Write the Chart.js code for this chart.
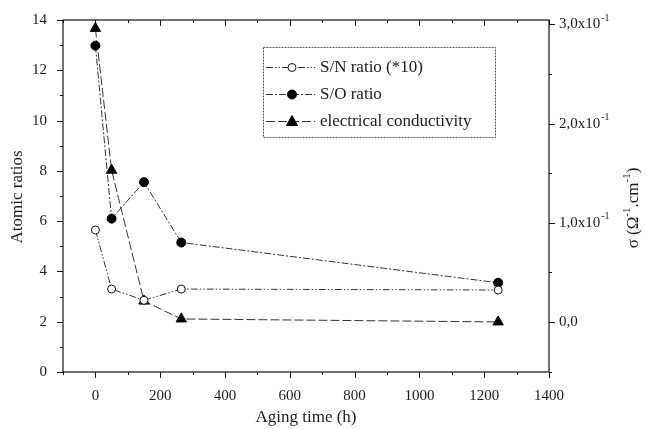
<!DOCTYPE html>
<html>
<head>
<meta charset="utf-8">
<script src="https://cdn.jsdelivr.net/npm/chart.js@4/dist/chart.umd.min.js"></script>
<style>
  html, body { margin: 0; padding: 0; background: #fff; }
  #wrap { width: 647px; height: 429px; }
</style>
</head>
<body>
<div id="wrap"><canvas id="c" width="647" height="429"></canvas></div>
<script>
// data
const agingTime = [0, 50, 150, 265, 1243];
const snRatio = [5.65, 3.3, 2.85, 3.3, 3.26];        // S/N ratio (*10)
const soRatio = [12.98, 6.1, 7.55, 5.15, 3.55];      // S/O ratio
const conductivity = [0.296, 0.153, 0.021, 0.003, 0.0]; // sigma, right axis

const xTicks = [0, 200, 400, 600, 800, 1000, 1200, 1400];
const leftTicks = [0, 2, 4, 6, 8, 10, 12, 14];
const rightTicks = [0, 0.1, 0.2, 0.3];

const seriesNames = ['S/N ratio (*10)', 'S/O ratio', 'electrical conductivity'];

const FONT = '"Liberation Serif"';
const INK = '#1a1a1a';
const LINE = '#333';

function pts(ys) {
  return agingTime.map((x, i) => ({ x: x, y: ys[i] }));
}

const datasets = [
  {
    label: seriesNames[0], data: pts(snRatio), yAxisID: 'y',
    borderColor: LINE, borderWidth: 1, borderDash: [7, 2, 1.5, 2, 1.5, 2],
    pointStyle: 'circle', pointRadius: 4, pointBackgroundColor: '#fff',
    pointBorderColor: '#111', pointBorderWidth: 1, showLine: true
  },
  {
    label: seriesNames[1], data: pts(soRatio), yAxisID: 'y',
    borderColor: LINE, borderWidth: 1, borderDash: [7, 2, 2, 2],
    pointStyle: 'circle', pointRadius: 4.5, pointBackgroundColor: '#000',
    pointBorderColor: '#000', pointBorderWidth: 1, showLine: true
  },
  {
    label: seriesNames[2], data: pts(conductivity), yAxisID: 'y2',
    borderColor: LINE, borderWidth: 1, borderDash: [9, 3],
    pointStyle: 'triangle', pointRadius: 6, pointBackgroundColor: '#000',
    pointBorderColor: '#000', pointBorderWidth: 1, showLine: true
  }
];

// frame, minor/major ticks, right labels, titles and legend box
const decor = {
  id: 'decor',
  afterDraw(chart) {
    const ctx = chart.ctx;
    const a = chart.chartArea;
    const sx = chart.scales.x, sy = chart.scales.y, s2 = chart.scales.y2;
    ctx.save();
    ctx.strokeStyle = '#111';
    ctx.lineWidth = 1.2;
    ctx.setLineDash([]);
    ctx.strokeRect(a.left, a.top, a.right - a.left, a.bottom - a.top);

    ctx.lineWidth = 1;
    ctx.beginPath();
    // x ticks: outward at bottom, inward at top
    for (let v = -100; v <= 1400; v += 100) {
      const px = Math.round(sx.getPixelForValue(v)) + 0.5;
      const len = v % 200 === 0 ? 6 : 3;
      ctx.moveTo(px, a.bottom); ctx.lineTo(px, a.bottom + len);
      ctx.moveTo(px, a.top); ctx.lineTo(px, a.top + len);
    }
    // left ticks outward
    for (let v = 0; v <= 14; v += 1) {
      const py = Math.round(sy.getPixelForValue(v)) + 0.5;
      const len = v % 2 === 0 ? 6 : 3;
      ctx.moveTo(a.left, py); ctx.lineTo(a.left - len, py);
    }
    // right ticks outward
    for (let k = -1; k <= 6; k++) {
      const v = k * 0.05;
      const py = Math.round(s2.getPixelForValue(v)) + 0.5;
      const len = k % 2 === 0 ? 6 : 3;
      ctx.moveTo(a.right, py); ctx.lineTo(a.right + len, py);
    }
    ctx.stroke();

    // right tick labels with superscript exponent
    ctx.fillStyle = INK;
    ctx.textBaseline = 'middle';
    ctx.textAlign = 'left';
    rightTicks.forEach(v => {
      const py = s2.getPixelForValue(v);
      const x0 = a.right + 10;
      ctx.font = '15px ' + FONT;
      if (v === 0) {
        ctx.fillText('0,0', x0, py);
      } else {
        const base = (v * 10).toFixed(1).replace('.', ',') + 'x10';
        ctx.fillText(base, x0, py);
        const w = ctx.measureText(base).width;
        ctx.font = '10px ' + FONT;
        ctx.fillText('-1', x0 + w + 1, py - 6);
      }
    });

    // axis titles
    ctx.font = '17px ' + FONT;
    ctx.textAlign = 'center';
    ctx.fillText('Aging time (h)', (a.left + a.right) / 2, 418);

    ctx.save();
    ctx.translate(18, 197);
    ctx.rotate(-Math.PI / 2);
    ctx.fillText('Atomic ratios', 0, 0);
    ctx.restore();

    // right title: sigma (Ohm^-1.cm^-1), reading upward
    ctx.save();
    ctx.translate(634, 208);
    ctx.rotate(-Math.PI / 2);
    const parts = [
      ['σ (Ω', 17, 0], ['-1', 11, -7], ['.cm', 17, 0], ['-1', 11, -7], [')', 17, 0]
    ];
    let total = 0;
    parts.forEach(p => { ctx.font = p[1] + 'px ' + FONT; total += ctx.measureText(p[0]).width; });
    let cx = -total / 2;
    ctx.textAlign = 'left';
    parts.forEach(p => {
      ctx.font = p[1] + 'px ' + FONT;
      ctx.fillText(p[0], cx, p[2]);
      cx += ctx.measureText(p[0]).width;
    });
    ctx.restore();

    // legend box
    const bx = 263, by = 47, bw = 232, bh = 90;
    ctx.strokeStyle = '#555';
    ctx.lineWidth = 1;
    ctx.setLineDash([2, 1]);
    ctx.strokeRect(bx + 0.5, by + 0.5, bw, bh);
    const rows = [67, 94, 121];
    chart.data.datasets.forEach((ds, i) => {
      const y = rows[i] + 0.5;
      ctx.strokeStyle = LINE;
      ctx.setLineDash(ds.borderDash);
      ctx.beginPath();
      ctx.moveTo(bx + 3, y); ctx.lineTo(bx + 52, y);
      ctx.stroke();
      ctx.setLineDash([]);
      const mx = bx + 29;
      ctx.fillStyle = ds.pointBackgroundColor;
      ctx.strokeStyle = ds.pointBorderColor;
      ctx.beginPath();
      if (ds.pointStyle === 'triangle') {
        ctx.moveTo(mx, y - 6); ctx.lineTo(mx + 5.5, y + 4); ctx.lineTo(mx - 5.5, y + 4); ctx.closePath();
      } else {
        ctx.arc(mx, y, ds.pointRadius, 0, Math.PI * 2);
      }
      ctx.fill(); ctx.stroke();
      ctx.fillStyle = INK;
      ctx.font = '17px ' + FONT;
      ctx.textAlign = 'left';
      ctx.fillText(ds.label, bx + 57, y);
    });
    ctx.restore();
  }
};

new Chart(document.getElementById('c'), {
  type: 'scatter',
  data: { datasets: datasets },
  options: {
    responsive: false,
    animation: false,
    layout: { padding: { top: 20, right: 0, left: 0, bottom: 0 } },
    plugins: { legend: { display: false }, tooltip: { enabled: false } },
    scales: {
      x: {
        type: 'linear', min: -100, max: 1400,
        afterBuildTicks: s => { s.ticks = xTicks.map(v => ({ value: v })); },
        afterFit: s => { s.height = 57; },
        grid: { display: false },
        border: { display: false },
        ticks: { color: INK, font: { family: FONT, size: 15 }, padding: 7, maxRotation: 0,
                 callback: v => String(v) }
      },
      y: {
        position: 'left', min: 0, max: 14,
        afterBuildTicks: s => { s.ticks = leftTicks.map(v => ({ value: v })); },
        afterFit: s => { s.width = 63; },
        grid: { display: false },
        border: { display: false },
        ticks: { color: INK, font: { family: FONT, size: 15 }, padding: 8,
                 callback: v => String(v) }
      },
      y2: {
        position: 'right', min: -0.0505, max: 0.3045,
        afterBuildTicks: s => { s.ticks = rightTicks.map(v => ({ value: v })); },
        afterFit: s => { s.width = 98; },
        grid: { display: false },
        border: { display: false },
        ticks: { display: false }
      }
    }
  },
  plugins: [decor]
});
</script>
</body>
</html>
